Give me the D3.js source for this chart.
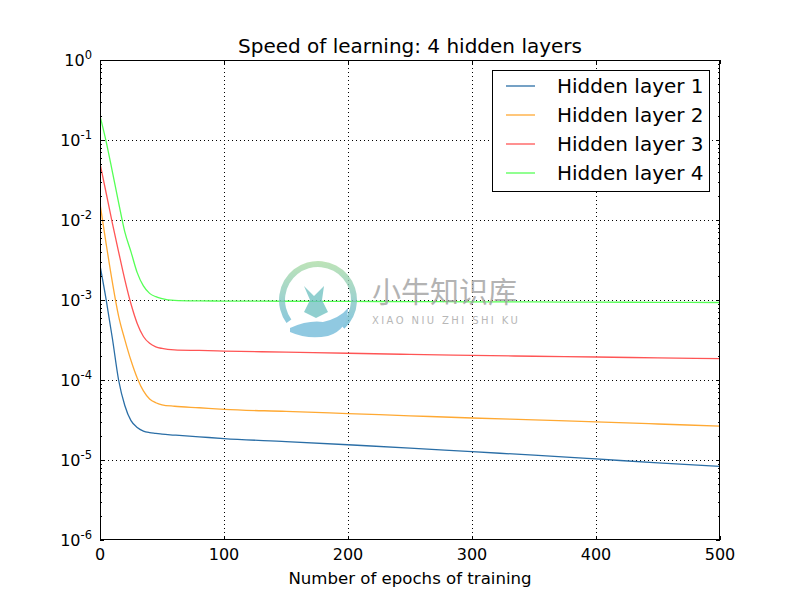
<!DOCTYPE html>
<html>
<head>
<meta charset="utf-8">
<script src="https://cdn.jsdelivr.net/npm/d3@7"></script>
<style>
  html, body { margin: 0; padding: 0; background: #fff; }
  svg { display: block; font-family: "DejaVu Sans", sans-serif; }
</style>
</head>
<body>
<svg id="chart" width="800" height="600"></svg>
<script>
// ---- data ----
const epochs = [0, 5, 10, 15, 20, 25, 30, 35, 40, 45, 50, 60, 80, 100, 150, 200, 250, 300, 350, 400, 450, 500];
const layer1 = [2.7e-3, 1.0e-3, 3.3e-4, 1.0e-4, 4.8e-5, 3.1e-5, 2.55e-5, 2.3e-5, 2.2e-5, 2.15e-5, 2.1e-5, 2.05e-5, 1.95e-5, 1.85e-5, 1.7e-5, 1.55e-5, 1.41e-5, 1.27e-5, 1.15e-5, 1.03e-5, 9.2e-6, 8.3e-6];
const layer2 = [1.6e-2, 5.0e-3, 1.66e-3, 6.3e-4, 3.2e-4, 1.75e-4, 1.06e-4, 7.3e-5, 5.8e-5, 5.2e-5, 4.9e-5, 4.7e-5, 4.5e-5, 4.3e-5, 4.05e-5, 3.8e-5, 3.57e-5, 3.35e-5, 3.17e-5, 3.0e-5, 2.82e-5, 2.65e-5];
const layer3 = [5.1e-2, 2.16e-2, 9.1e-3, 4.0e-3, 1.8e-3, 8.9e-4, 5.1e-4, 3.5e-4, 2.87e-4, 2.6e-4, 2.48e-4, 2.38e-4, 2.34e-4, 2.3e-4, 2.23e-4, 2.16e-4, 2.09e-4, 2.03e-4, 1.98e-4, 1.94e-4, 1.89e-4, 1.85e-4];
const layer4 = [2.0e-1, 9.5e-2, 4.0e-2, 1.65e-2, 7.1e-3, 4.0e-3, 2.2e-3, 1.5e-3, 1.21e-3, 1.1e-3, 1.04e-3, 9.9e-4, 9.75e-4, 9.7e-4, 9.65e-4, 9.6e-4, 9.55e-4, 9.5e-4, 9.45e-4, 9.4e-4, 9.35e-4, 9.3e-4];
const seriesNames = ["Hidden layer 1", "Hidden layer 2", "Hidden layer 3", "Hidden layer 4"];
const seriesColors = ["#2A6EA6", "#FFA933", "#FF5555", "#55FF55"];
const xTicks = [0, 100, 200, 300, 400, 500];
const yExponents = [0, -1, -2, -3, -4, -5, -6];
const titleText = "Speed of learning: 4 hidden layers";
const xLabelText = "Number of epochs of training";

// ---- layout ----
const svg = d3.select("#chart");
const L = 100, R = 720, T = 60, B = 540;
const x = d3.scaleLinear().domain([0, 500]).range([L, R]);
const y = d3.scaleLog().domain([1e-6, 1]).range([B, T]);

// clip
const defs = svg.append("defs");
defs.append("clipPath").attr("id", "clip")
  .append("rect").attr("x", L).attr("y", T).attr("width", R - L).attr("height", B - T);

// grid
const grid = svg.append("g").attr("stroke", "#000").attr("stroke-width", 1)
  .attr("stroke-dasharray", "1,3");
xTicks.forEach(t => {
  if (t === 0 || t === 500) return;
  const px = Math.round(x(t)) + 0.5;
  grid.append("line").attr("x1", px).attr("x2", px).attr("y1", T).attr("y2", B);
});
yExponents.forEach(e => {
  if (e === 0 || e === -6) return;
  const py = Math.round(y(Math.pow(10, e))) + 0.5;
  grid.append("line").attr("x1", L).attr("x2", R).attr("y1", py).attr("y2", py);
});

// lines
const series = [layer1, layer2, layer3, layer4];
const line = d3.line().x(d => x(d[0])).y(d => y(d[1])).curve(d3.curveMonotoneX);
const lines = svg.append("g").attr("clip-path", "url(#clip)");
series.forEach((s, i) => {
  lines.append("path")
    .datum(epochs.map((e, j) => [e, s[j]]))
    .attr("fill", "none")
    .attr("stroke", seriesColors[i])
    .attr("stroke-width", 1.3)
    .attr("d", line);
});

// axes (ticks inward on all sides, matplotlib classic)
const ticks = svg.append("g").attr("stroke", "#000").attr("stroke-width", 1);
xTicks.forEach(t => {
  const px = Math.round(x(t)) + 0.5;
  ticks.append("line").attr("x1", px).attr("x2", px).attr("y1", B).attr("y2", B - 4);
  ticks.append("line").attr("x1", px).attr("x2", px).attr("y1", T).attr("y2", T + 4);
});
for (let e = -6; e <= 0; e++) {
  const base = Math.pow(10, e);
  const py = Math.round(y(base)) + 0.5;
  ticks.append("line").attr("x1", L).attr("x2", L + 4).attr("y1", py).attr("y2", py);
  ticks.append("line").attr("x1", R).attr("x2", R - 4).attr("y1", py).attr("y2", py);
  if (e < 0) {
    for (let m = 2; m <= 9; m++) {
      const my = Math.round(y(base * m)) + 0.5;
      ticks.append("line").attr("x1", L).attr("x2", L + 2).attr("y1", my).attr("y2", my);
      ticks.append("line").attr("x1", R).attr("x2", R - 2).attr("y1", my).attr("y2", my);
    }
  }
}
svg.append("rect").attr("x", L + 0.5).attr("y", T + 0.5).attr("width", R - L - 1).attr("height", B - T - 1)
  .attr("fill", "none").attr("stroke", "#000").attr("stroke-width", 1);

// tick labels
const fs = 16;
xTicks.forEach(t => {
  svg.append("text").attr("x", x(t)).attr("y", B + 20).attr("text-anchor", "middle")
    .attr("font-size", fs).attr("fill", "#000").text(t);
});
yExponents.forEach(e => {
  const t = svg.append("text").attr("x", 92).attr("y", y(Math.pow(10, e)) + 6)
    .attr("text-anchor", "end").attr("font-size", fs).attr("fill", "#000");
  t.append("tspan").text("10");
  t.append("tspan").attr("dy", -7).attr("font-size", 11.5).text(e === 0 ? "0" : "-" + (-e));
});

// title and axis label
svg.append("text").attr("x", (L + R) / 2).attr("y", 53).attr("text-anchor", "middle")
  .attr("font-size", 20).attr("fill", "#000").text(titleText);
svg.append("text").attr("x", (L + R) / 2).attr("y", 584).attr("text-anchor", "middle")
  .attr("font-size", 16.6).attr("fill", "#000").text(xLabelText);

// watermark
const wm = svg.append("g").attr("opacity", 0.75);
const grad = defs.append("linearGradient").attr("id", "wmg")
  .attr("x1", 0).attr("y1", 0).attr("x2", 0).attr("y2", 1);
grad.append("stop").attr("offset", "0%").attr("stop-color", "#a8dba0");
grad.append("stop").attr("offset", "100%").attr("stop-color", "#5fb3d6");
wm.append("path")
  .attr("transform", "translate(318,300)")
  .attr("d", d3.arc().innerRadius(33).outerRadius(39).startAngle(-2.2).endAngle(2.4)())
  .attr("fill", "url(#wmg)");
wm.append("path")
  .attr("transform", "translate(318,300)")
  .attr("d", "M-28,28 Q-10,20 5,22 Q22,18 30,8 Q30,30 10,36 Q-10,40 -28,32 Z")
  .attr("fill", "#6cb8d8");
wm.append("path")
  .attr("transform", "translate(318,300)")
  .attr("d", "M-14,-14 L-4,-4 L6,-14 L4,0 L10,12 L-2,18 L-14,12 L-8,0 Z")
  .attr("fill", "#6cc0c0");
wm.append("text").attr("x", 372).attr("y", 303).attr("font-size", 29)
  .attr("font-family", "Noto Sans CJK SC").attr("fill", "#9a9a9a").text("小牛知识库");
wm.append("text").attr("x", 372).attr("y", 324).attr("font-size", 10)
  .attr("letter-spacing", 2.4).attr("fill", "#a0a0a0").text("XIAO NIU ZHI SHI KU");

// legend
const lg = svg.append("g");
lg.append("rect").attr("x", 492.5).attr("y", 70.5).attr("width", 217).attr("height", 121)
  .attr("fill", "#fff").attr("stroke", "#000").attr("stroke-width", 1);
seriesNames.forEach((n, i) => {
  const ry = 86 + i * 29;
  lg.append("line").attr("x1", 506).attr("x2", 535).attr("y1", ry).attr("y2", ry)
    .attr("stroke", seriesColors[i]).attr("stroke-width", 1.3);
  lg.append("text").attr("x", 557).attr("y", ry + 7).attr("font-size", 20).attr("fill", "#000").text(n);
});
</script>
</body>
</html>
